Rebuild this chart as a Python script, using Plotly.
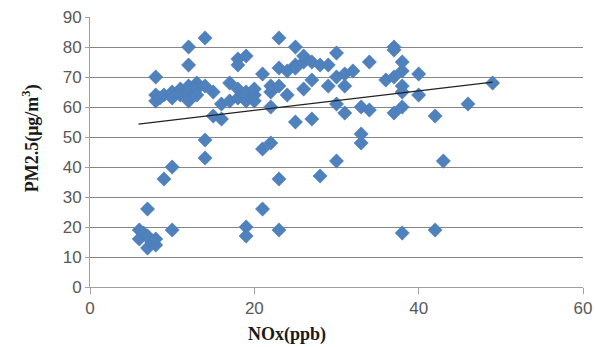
import plotly.graph_objects as go

nox = [6, 6, 6.5, 7, 7, 7, 7.5, 8, 8, 10, 9, 10,
       8, 8, 8, 8.5, 9, 10, 10, 11, 11, 12, 12, 12, 12, 12, 13, 13, 13, 14, 14, 14, 14,
       15, 15, 16, 16, 17, 17, 18, 18, 18, 18, 19, 19, 19, 19, 19, 20, 20, 20, 21, 21, 21,
       22, 22, 22, 22, 23, 23, 23, 23, 23, 24, 24, 25, 25, 25, 25, 26, 26, 26, 27, 27, 27,
       28, 28, 29, 29, 30, 30, 30, 30, 31, 31, 31, 32, 33, 33, 33, 34, 34, 36, 37, 37, 37,
       37, 38, 38, 38, 38, 38, 38, 40, 40, 42, 42, 43, 46, 49]
pm25 = [19, 16, 18, 17, 13, 26, 15, 14, 16, 19, 36, 40,
        70, 64, 62, 63, 64, 65, 63, 66, 64, 65, 67, 62, 80, 74, 68, 66, 64, 67, 83, 49, 43,
        65, 57, 61, 56, 62, 68, 74, 76, 63, 66, 77, 20, 17, 62, 65, 64, 66, 62, 71, 46, 26,
        48, 65, 60, 67, 83, 73, 36, 19, 67, 72, 64, 80, 55, 74, 73, 75, 77, 66, 75, 56, 69,
        37, 74, 67, 74, 78, 70, 61, 42, 67, 71, 58, 72, 60, 51, 48, 75, 59, 69, 80, 79, 70,
        58, 72, 67, 60, 18, 75, 65, 71, 64, 57, 19, 42, 61, 68]

trend_x = [5.9, 49]
trend_y = [54.3, 68.3]

x_ticks = [0, 20, 40, 60]
y_ticks = [0, 10, 20, 30, 40, 50, 60, 70, 80, 90]

fig = go.Figure()
fig.add_trace(go.Scatter(
    x=nox, y=pm25, mode="markers",
    marker=dict(symbol="diamond", size=11, color="#4F81BD",
                line=dict(width=0.5, color="#4A7CB8")),
    showlegend=False))
fig.add_trace(go.Scatter(
    x=trend_x, y=trend_y, mode="lines",
    line=dict(color="#222222", width=1.3), showlegend=False))

fig.update_layout(
    width=595, height=347,
    margin=dict(l=90, r=12, t=17, b=60, autoexpand=False),
    paper_bgcolor="white", plot_bgcolor="white",
    font=dict(family="Liberation Sans, Arial", color="#595959", size=17),
    xaxis=dict(range=[0, 60], tickvals=x_ticks, showgrid=False, zeroline=False,
               showline=True, linecolor="#A0A0A0", linewidth=1, automargin=False,
               ticks="outside", ticklen=6, tickcolor="#A0A0A0",
               tickfont=dict(size=17, color="#595959")),
    yaxis=dict(range=[0, 90], tickvals=y_ticks, showgrid=True, gridcolor="#858585",
               gridwidth=1.2, zeroline=False, showline=True, linecolor="#A0A0A0",
               linewidth=1, ticks="outside", ticklen=4, tickcolor="#A0A0A0", automargin=False,
               tickfont=dict(size=17, color="#595959")),
)
fig.add_annotation(text="<b>NOx(ppb)</b>", xref="paper", yref="paper",
                   x=0.4, y=-0.175, yanchor="middle", showarrow=False,
                   font=dict(family="Liberation Serif, Times New Roman", size=18, color="#1a1a1a"))
fig.add_annotation(text="<b>PM2.5(μg/m<sup>3</sup>)</b>", xref="paper", yref="paper",
                   x=-0.12, y=0.55, xanchor="center", yanchor="middle", textangle=-90,
                   showarrow=False,
                   font=dict(family="Liberation Serif, Times New Roman", size=18, color="#1a1a1a"))
fig.write_html("out.html")
